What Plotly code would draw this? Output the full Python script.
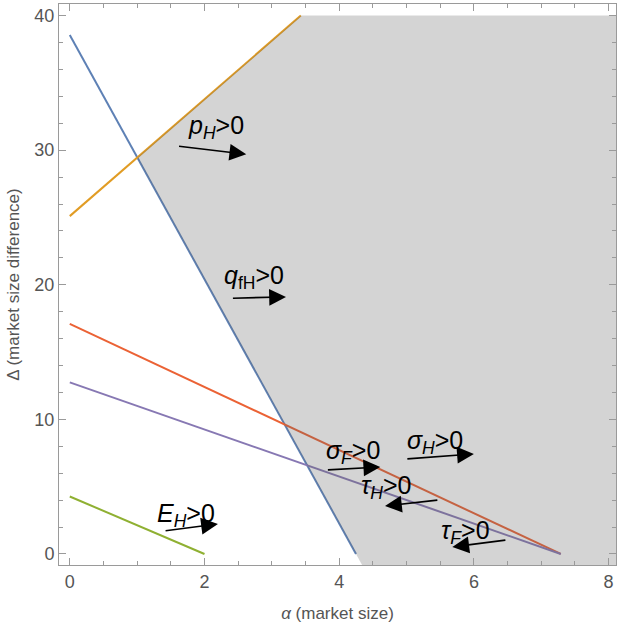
import plotly.graph_objects as go

# line end points (alpha, Delta)
blue_x = [0, 4.25]
blue_y = [38.55, 0]
orange_x = [0, 3.43]
orange_y = [25.1, 40]
red_x = [0, 7.29]
red_y = [17.1, 0]
purple_x = [0, 7.29]
purple_y = [12.75, 0]
green_x = [0, 2.0]
green_y = [4.27, 0]

# labels with arrows: text position, arrow tail, arrow head
labels = ['<i>p</i><sub><i>H</i></sub>&gt;0',
          '<i>q</i><sub>fH</sub>&gt;0',
          '<i>σ</i><sub><i>F</i></sub>&gt;0',
          '<i>σ</i><sub><i>H</i></sub>&gt;0',
          '<i>τ</i><sub><i>H</i></sub>&gt;0',
          '<i>τ</i><sub><i>F</i></sub>&gt;0',
          '<i>E</i><sub><i>H</i></sub>&gt;0']
label_x = [2.17, 2.74, 4.21, 5.42, 4.70, 5.88, 1.73]
label_y = [31.7, 20.6, 7.6, 8.3, 5.0, 1.6, 2.9]
tail_x = [1.60, 2.40, 3.81, 4.99, 5.48, 6.49, 1.40]
tail_y = [30.3, 19.0, 6.24, 7.06, 4.01, 1.04, 1.71]
head_x = [2.62, 3.21, 4.61, 6.00, 4.68, 5.68, 2.20]
head_y = [29.7, 19.1, 6.46, 7.43, 3.57, 0.52, 2.23]

xr = [-0.16, 8.11]
yr = [-0.82, 40.86]
top = 40

fig = go.Figure()

lines = [(blue_x, blue_y, '#5E81B5'),
         (orange_x, orange_y, '#E19C24'),
         (red_x, red_y, '#EB6235'),
         (purple_x, purple_y, '#8778B3'),
         (green_x, green_y, '#8FB032')]
for lx, ly, c in lines:
    fig.add_trace(go.Scatter(x=lx, y=ly, mode='lines',
                             line=dict(color=c, width=2), hoverinfo='skip'))

# shaded region: right of the blue line and below the orange line
bs = (blue_y[1] - blue_y[0]) / (blue_x[1] - blue_x[0])
os_ = (orange_y[1] - orange_y[0]) / (orange_x[1] - orange_x[0])
ix = (blue_y[0] - orange_y[0]) / (os_ - bs)
iy = orange_y[0] + os_ * ix
ox = (top - orange_y[0]) / os_
bx = (yr[0] - blue_y[0]) / bs
fig.add_trace(go.Scatter(x=[ix, ox, xr[1], xr[1], bx, ix],
                         y=[iy, top, top, yr[0], yr[0], iy],
                         mode='lines', fill='toself', line=dict(width=0),
                         fillcolor='rgba(100,100,100,0.28)', hoverinfo='skip'))

for t, x, y in zip(labels, label_x, label_y):
    fig.add_annotation(x=x, y=y, text=t, showarrow=False,
                       font=dict(size=25, color='black'))
for x0, y0, x1, y1 in zip(tail_x, tail_y, head_x, head_y):
    fig.add_annotation(x=x1, y=y1, ax=x0, ay=y0, axref='x', ayref='y',
                       text='', showarrow=True, arrowhead=2, arrowsize=2.1,
                       arrowwidth=1.6, arrowcolor='black')

axis_style = dict(showgrid=False, zeroline=False, showline=True, linecolor='#9a9a9a',
                  linewidth=1, mirror='ticks', ticks='inside', tickcolor='#9a9a9a',
                  automargin=False, tickfont=dict(size=18, color='#555555'))
fig.update_xaxes(range=xr, tickvals=[0, 2, 4, 6, 8], ticklen=7,
                 minor=dict(ticks='inside', dtick=0.5, ticklen=4, tickcolor='#9a9a9a'),
                 title=dict(text='<i>α</i> (market size)', font=dict(size=17, color='#555555'),
                            standoff=16),
                 **axis_style)
fig.update_yaxes(range=yr, tickvals=[0, 10, 20, 30, 40], ticklen=7,
                 minor=dict(ticks='inside', dtick=2, ticklen=4, tickcolor='#9a9a9a'),
                 title=dict(text='Δ (market size difference)', font=dict(size=17, color='#555555'),
                            standoff=10),
                 **axis_style)
fig.update_layout(width=624, height=629, showlegend=False,
                  margin=dict(l=59, r=8, t=4, b=64),
                  plot_bgcolor='white', paper_bgcolor='white',
                  font=dict(family='Liberation Sans, Arial, sans-serif'))

# page body has a default 8px margin, drop it so the figure fills the window
fig.write_html('out.html', config={'displayModeBar': False},
               post_script="document.body.style.margin='0';")
